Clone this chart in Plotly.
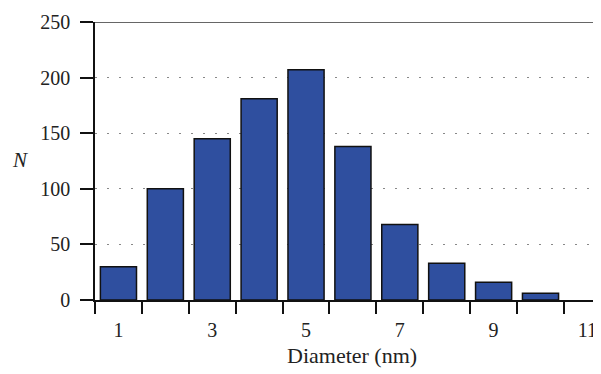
import plotly.graph_objects as go

diameters = [1, 2, 3, 4, 5, 6, 7, 8, 9, 10]
counts = [30, 100, 145, 181, 207, 138, 68, 33, 16, 6]
x_tick_vals = [1, 3, 5, 7, 9, 11]
x_tick_text = ["1", "3", "5", "7", "9", "11"]
bin_edges = [0.5, 1.5, 2.5, 3.5, 4.5, 5.5, 6.5, 7.5, 8.5, 9.5, 10.5]
y_tick_vals = [0, 50, 100, 150, 200, 250]

FONT = "Liberation Serif"
# page body has an 8px default margin; figure sized so it fills the 601x374 window
W, H = 593, 366
L, T, PW, PH = 87, 14, 506, 278

fig = go.Figure()
fig.add_trace(go.Bar(
    x=diameters, y=counts,
    marker=dict(color="#2f4f9f", line=dict(color="#111111", width=1.5)),
    width=0.77,
))

fig.update_layout(
    width=W, height=H,
    margin=dict(l=L, r=W - L - PW, t=T, b=H - T - PH),
    paper_bgcolor="white", plot_bgcolor="white",
    showlegend=False,
    font=dict(family=FONT, size=20, color="#222222"),
    xaxis=dict(
        range=[0.5, 11.29], automargin=False,
        tickmode="array", tickvals=x_tick_vals, ticktext=x_tick_text,
        ticks="outside", ticklen=0, tickcolor="rgba(0,0,0,0)",
        ticklabelstandoff=11,
        minor=dict(tickmode="array", tickvals=bin_edges, ticks="outside",
                   ticklen=12, tickwidth=1.5, tickcolor="#111111", showgrid=False),
        showgrid=False, zeroline=False,
        showline=True, linecolor="#111111", linewidth=1.5,
    ),
    yaxis=dict(
        range=[0, 250], automargin=False,
        tickmode="array", tickvals=y_tick_vals,
        ticks="outside", ticklen=13, tickwidth=1.5, tickcolor="#111111",
        ticklabelstandoff=6,
        showgrid=True, gridcolor="#888888", gridwidth=1, griddash="2px,10px",
        zeroline=False,
        showline=True, linecolor="#111111", linewidth=1.5,
    ),
    shapes=[dict(type="line", xref="x", yref="y", x0=0.5, x1=11.29, y0=250, y1=250,
                 line=dict(color="#333333", width=1.5), layer="above")],
    annotations=[
        dict(text="<i>N</i>", xref="paper", yref="paper",
             x=-(95 - 20) / PW, y=(300 - 160) / PH, showarrow=False,
             xanchor="center", yanchor="middle", font=dict(family=FONT, size=21)),
        dict(text="Diameter (nm)", xref="paper", yref="paper",
             x=(352 - 95) / PW, y=-(355 - 300) / PH, showarrow=False,
             xanchor="center", yanchor="middle", font=dict(family=FONT, size=22)),
    ],
)

fig.write_html("out.html")
